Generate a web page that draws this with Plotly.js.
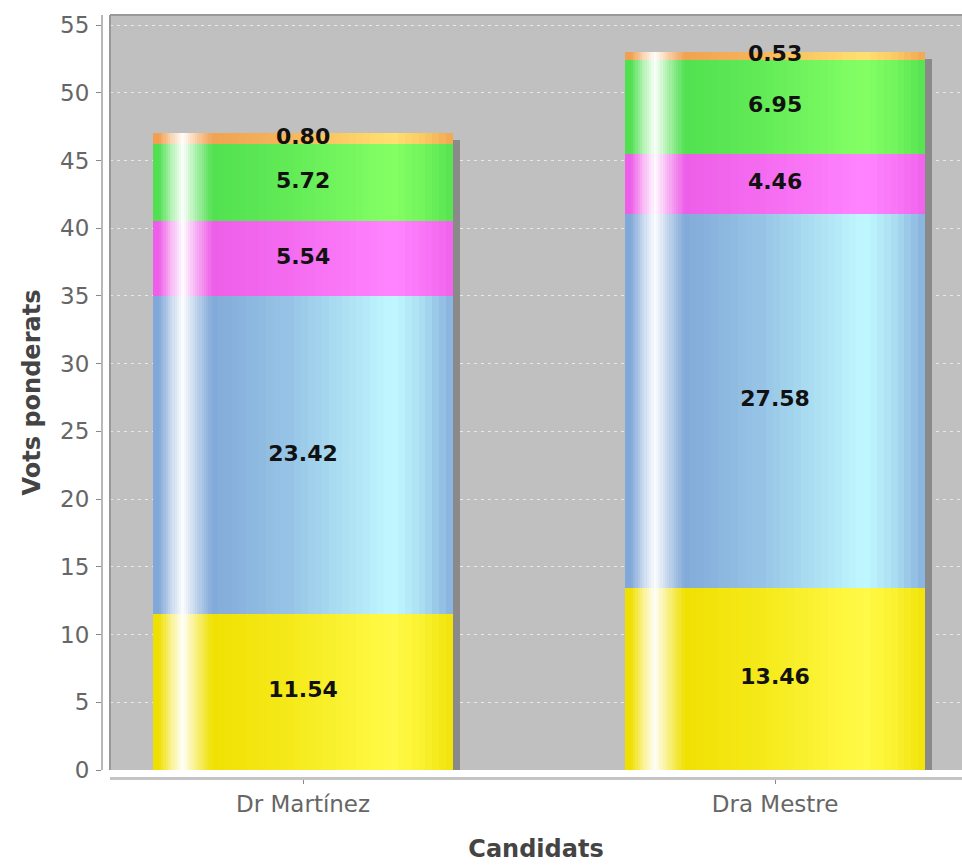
<!DOCTYPE html>
<html>
<head>
<meta charset="utf-8">
<script src="https://cdn.plot.ly/plotly-3.0.1.min.js"></script>
<style>html,body{margin:0;padding:0;background:#fff;}#chart{width:962px;height:865px;}</style>
</head>
<body>
<div id="chart"></div>
<script>
// ---- data ----
const categories = ['Dr Martínez', 'Dra Mestre'];
const serie1 = [11.54, 13.46];
const serie2 = [23.42, 27.58];
const serie3 = [5.54, 4.46];
const serie4 = [5.72, 6.95];
const serie5 = [0.80, 0.53];
const seriesNames = ['Sèrie 1', 'Sèrie 2', 'Sèrie 3', 'Sèrie 4', 'Sèrie 5'];
const yTickValues = [0, 5, 10, 15, 20, 25, 30, 35, 40, 45, 50, 55];

// ---- styling ----
const baseColors = ['#f0e000', '#80a8d8', '#ee5ee8', '#50e050', '#f0a050'];
const lightColors = ['#fffa48', '#c0f8ff', '#ff84ff', '#84ff64', '#ffe070'];
const W = 962, H = 865;
const mL = 100, mR = 0, mT = 15, mB = 85;
const plotLeftPx = 110, plotBottomPx = 770, yAxisLinePx = 102, xAxisLinePx = 778;
const xRange = [-0.409, 1.396];
const yRange = [0, 55.74];
const barW = 0.636;

const paperW = W - mL - mR, paperH = H - mT - mB;
const xDomStart = (plotLeftPx - mL) / paperW;
const yDomStart = (H - mB - plotBottomPx) / paperH;
const plotWpx = (1 - xDomStart) * paperW;
const plotHpx = (1 - yDomStart) * paperH;
const pxPerX = plotWpx / (xRange[1] - xRange[0]);
const pxPerY = plotHpx / (yRange[1] - yRange[0]);

const series = [serie1, serie2, serie3, serie4, serie5];
const bases = [];
let acc = categories.map(() => 0);
series.forEach(s => { bases.push(acc.slice()); acc = acc.map((a, i) => a + s[i]); });
const totals = acc;

// piecewise-linear opacity profiles across the bar width (fraction -> opacity)
function profile(pts, f) {
  for (let i = 0; i < pts.length - 1; i++) {
    const [f0, o0] = pts[i], [f1, o1] = pts[i + 1];
    if (f >= f0 && f <= f1) return o0 + (o1 - o0) * (f - f0) / (f1 - f0);
  }
  return 0;
}
const lightProfile = [[0.17, 0], [0.45, 0.35], [0.80, 1.0], [0.90, 0.65], [1.0, 0.12]];
const whiteProfile = [[0.02, 0], [0.06, 0.55], [0.10, 0.97], [0.14, 0.55], [0.20, 0]];
function stripsFor(pts, from, to, n) {
  const out = [];
  const step = (to - from) / n;
  for (let i = 0; i < n; i++) {
    const a = from + i * step, b = a + step;
    out.push([a, b, profile(pts, (a + b) / 2)]);
  }
  return out;
}
const lightStrips = stripsFor(lightProfile, 0.17, 1.0, 36);
const whiteStrips = stripsFor(whiteProfile, 0.02, 0.20, 24);

const traces = [];
// shadow
traces.push({
  type: 'bar', x: categories, y: totals.map(t => t - 7 / pxPerY), base: categories.map(() => 0),
  width: barW, offset: -barW / 2 + 7 / pxPerX,
  marker: { color: '#8a8a8a', line: { width: 0 } }, hoverinfo: 'skip', showlegend: false
});
// main series
series.forEach((s, k) => {
  traces.push({
    type: 'bar', name: seriesNames[k], x: categories, y: s, base: bases[k],
    width: barW, offset: -barW / 2,
    marker: { color: baseColors[k], line: { width: 0 } }, hoverinfo: 'skip', showlegend: false
  });
});
// gradient towards the light colour on the right part
series.forEach((s, k) => {
  lightStrips.forEach(st => {
    traces.push({
      type: 'bar', x: categories, y: s, base: bases[k],
      width: (st[1] - st[0]) * barW, offset: -barW / 2 + st[0] * barW,
      marker: { color: lightColors[k], opacity: st[2], line: { width: 0 } }, hoverinfo: 'skip', showlegend: false
    });
  });
});
// white highlight near the left edge
whiteStrips.forEach(st => {
  traces.push({
    type: 'bar', x: categories, y: totals, base: categories.map(() => 0),
    width: (st[1] - st[0]) * barW, offset: -barW / 2 + st[0] * barW,
    marker: { color: '#ffffff', opacity: st[2], line: { width: 0 } }, hoverinfo: 'skip', showlegend: false
  });
});
// value labels
const lx = [], ly = [], lt = [];
series.forEach((s, k) => {
  s.forEach((v, i) => { lx.push(categories[i]); ly.push(bases[k][i] + v / 2); lt.push(v.toFixed(2)); });
});
traces.push({
  type: 'scatter', mode: 'text', x: lx, y: ly, text: lt, textposition: 'middle center',
  textfont: { family: 'DejaVu Sans', size: 22, color: '#111111', weight: 'bold' },
  hoverinfo: 'skip', showlegend: false, cliponaxis: false
});

const layout = {
  width: W, height: H,
  margin: { l: mL, r: mR, t: mT, b: mB, pad: 0 },
  paper_bgcolor: '#ffffff', plot_bgcolor: '#c0c0c0',
  barmode: 'overlay', bargap: 0,
  showlegend: false,
  font: { family: 'DejaVu Sans', color: '#666666' },
  xaxis: {
    type: 'category', range: xRange, domain: [xDomStart, 1],
    anchor: 'free', position: (H - mB - xAxisLinePx) / paperH,
    showline: true, linecolor: '#c4c4c4', linewidth: 3,
    ticks: 'outside', ticklen: 4, tickcolor: '#888888', tickwidth: 1,
    tickfont: { family: 'DejaVu Sans', size: 23, color: '#666666' },
    showgrid: false, zeroline: false, fixedrange: true,
    title: { text: 'Candidats', font: { family: 'DejaVu Sans', size: 24, color: '#444444', weight: 'bold' }, standoff: 24 }
  },
  yaxis: {
    range: yRange, domain: [yDomStart, 1],
    anchor: 'free', position: (yAxisLinePx - mL) / paperW,
    tickvals: yTickValues, ticktext: yTickValues.map(String),
    showline: true, linecolor: '#b8b8b8', linewidth: 2,
    ticks: 'outside', ticklen: 5, tickcolor: '#888888', tickwidth: 1,
    tickfont: { family: 'DejaVu Sans', size: 23, color: '#666666' },
    ticklabelstandoff: 2,
    showgrid: true, gridcolor: 'rgba(255,255,255,0.65)', gridwidth: 1, griddash: '3px,4px',
    zeroline: false, fixedrange: true,
    title: { text: 'Vots ponderats', font: { family: 'DejaVu Sans', size: 24, color: '#444444', weight: 'bold' }, standoff: 12 }
  },
  shapes: [
    { type: 'line', xref: 'x domain', yref: 'y domain', x0: 0, x1: 1, y0: 1, y1: 1, line: { color: '#999999', width: 2 } },
    { type: 'line', xref: 'x domain', yref: 'y domain', x0: 0, x1: 0, y0: 0, y1: 1, line: { color: '#999999', width: 2 } }
  ]
};

Plotly.newPlot('chart', traces, layout, { displayModeBar: false, staticPlot: true });
</script>
</body>
</html>
